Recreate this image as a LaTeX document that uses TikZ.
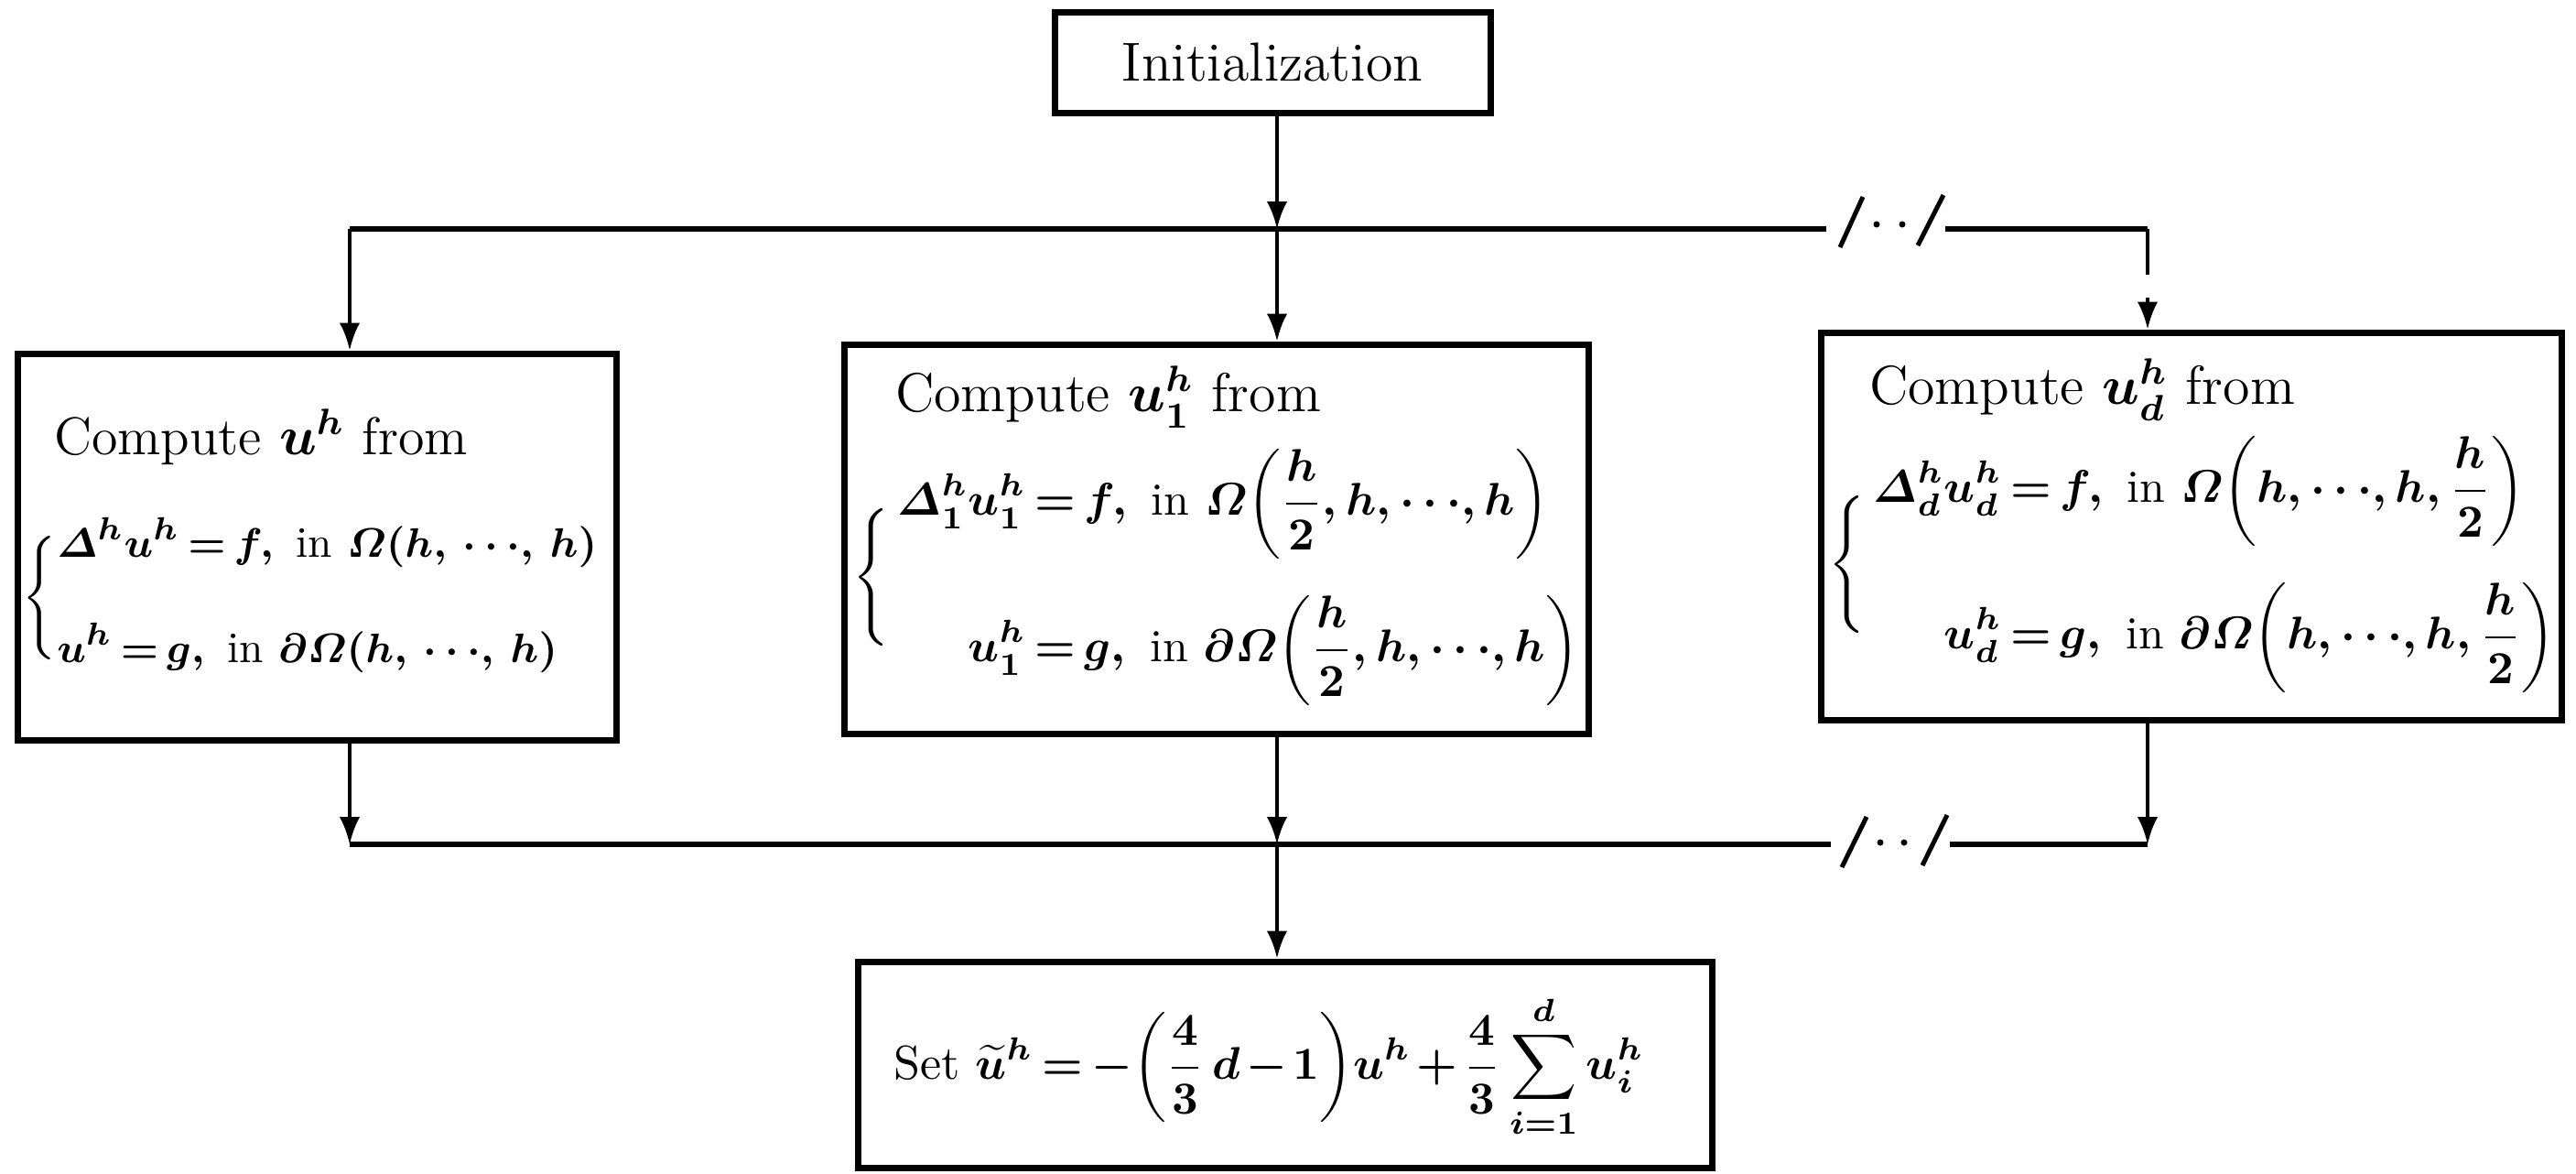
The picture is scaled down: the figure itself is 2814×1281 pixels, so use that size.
\documentclass[tikz,border=0pt]{standalone}
\usepackage{amsmath}
\usetikzlibrary{arrows.meta}
\thickmuskip=3mu plus 2mu
\medmuskip=2mu plus 1mu minus 1mu
\begin{document}
\begin{tikzpicture}[x=0.2pt,y=-0.2pt,
  font=\fontsize{12}{14.4}\selectfont\boldmath,
  box/.style={draw, line width=1.4pt, inner sep=0pt},
  txt/.style={inner sep=0pt},
  eq/.style={inner sep=0pt, font=\fontsize{10}{12}\selectfont\boldmath},
  conn/.style={line width=0.8pt, -{Latex[length=6pt,width=4.5pt]}},
  dconn/.style={conn, dash pattern=on 10pt off 5pt},
  bus/.style={line width=1.2pt},
  slash/.style={line width=1pt}]
\useasboundingbox (0,0) rectangle (2814,1281);

% boxes
\node[box, minimum width=95.2pt, minimum height=22pt] (init) at (1390,68) {Initialization};
\node[box, minimum width=130.6pt, minimum height=84.4pt] (L) at (346.5,597) {};
\node[box, minimum width=162.6pt, minimum height=85pt] (M) at (1328.5,588.5) {};
\node[box, minimum width=161.8pt, minimum height=84.6pt] (R) at (2393.5,574.5) {};
\node[box, minimum width=186.6pt, minimum height=45pt] (B) at (1403.5,1162.5) {};
\node[eq, font=\fontsize{10.4}{12.5}\selectfont\boldmath] (Bt) at (1386,1165)
  {Set $\displaystyle \widetilde{u}^h=-\biggl(\frac{4}{3}\,d-1\biggr)u^h+\frac{4}{3}\sum_{i=1}^{d}u_i^h$};

% box texts
\node[txt, anchor=base west, font=\fontsize{11.6}{14}\selectfont\boldmath] (Lt) at (58,496) {Compute $u^h$ from};
\node[eq, anchor=west, font=\fontsize{9.5}{11.4}\selectfont\boldmath] (Le) at (24,653) {$\displaystyle\Bigg\{\begin{array}{@{}l@{}}
  \varDelta^h u^h=f,\text{ in }\varOmega(h,\, {\cdots},\, h)\\[11pt]
  u^h=g,\text{ in }\partial\varOmega(h,\, {\cdots},\, h)\end{array}$};

\node[txt, anchor=base west] (Mt) at (977,449) {Compute $u_1^h$ from};
\node[eq, anchor=west] (Me) at (930,630) {$\displaystyle\Bigg\{\;\begin{aligned}
  \varDelta_1^h u_1^h&=f,\text{ in }\varOmega\biggl(\frac{h}{2}, h, {\cdots}, h\biggr)\\[4pt]
  u_1^h&=g,\text{ in }\partial\varOmega\biggl(\frac{h}{2}, h, {\cdots}, h\biggr)\end{aligned}$};

\node[txt, anchor=base west] (Rt) at (2041,441) {Compute $u_d^h$ from};
\node[eq, anchor=west] (Re) at (1996,616) {$\displaystyle\Bigg\{\;\begin{aligned}
  \varDelta_d^h u_d^h&=f,\text{ in }\varOmega\biggl(h, {\cdots}, h, \frac{h}{2}\biggr)\\[4pt]
  u_d^h&=g,\text{ in }\partial\varOmega\biggl(h, {\cdots}, h, \frac{h}{2}\biggr)\end{aligned}$};

% top bus
\coordinate (tL) at (382,250);
\coordinate (tM) at (1395,250);
\coordinate (tR) at (2346,250);
\coordinate (tb1) at (1995,250);
\coordinate (tb2) at (2125,250);
\draw[conn] (tM |- init.south) -- (tM);
\draw[bus] (tL) -- (tb1);
\draw[bus] (tb2) -- (tR);
\draw[slash] (2010,270) -- (2035,215);
\draw[slash] (2095,268) -- (2123,213);
\fill (2050,245) circle (0.7pt);
\fill (2078,245) circle (0.7pt);
\draw[conn] (tL) -- (tL |- L.north);
\draw[conn] (tM) -- (tM |- M.north);
\draw[dconn] (tR) -- (tR |- R.north);

% bottom bus
\coordinate (bL) at (382,922);
\coordinate (bM) at (1395,922);
\coordinate (bR) at (2346,922);
\coordinate (bb1) at (2000,922);
\coordinate (bb2) at (2130,922);
\draw[conn] (bL |- L.south) -- (bL);
\draw[conn] (bM |- M.south) -- (bM);
\draw[conn] (bR |- R.south) -- (bR);
\draw[bus] (bL) -- (bb1);
\draw[bus] (bb2) -- (bR);
\draw[slash] (2012,947) -- (2039,892);
\draw[slash] (2100,945) -- (2127,890);
\fill (2054,920) circle (0.7pt);
\fill (2080,920) circle (0.7pt);
\draw[conn] (bM) -- (bM |- B.north);
\end{tikzpicture}
\end{document}
